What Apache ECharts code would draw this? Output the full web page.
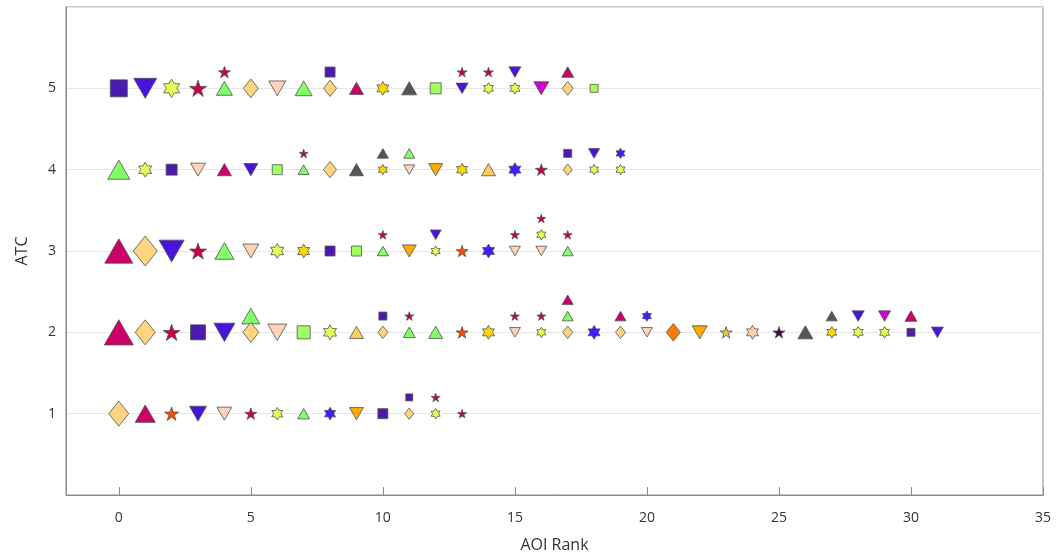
<!DOCTYPE html>
<html>
<head>
<meta charset="utf-8">
<script src="https://cdn.jsdelivr.net/npm/echarts@6/dist/echarts.min.js"></script>
<style>html,body{margin:0;padding:0;background:#fff;}#c{width:1063px;height:559px;}</style>
</head>
<body>
<div id="c"></div>
<script>
// Marker categories: [shape, colour]
const markerShapes = ['square','downTriangle','hexagram','star','triangle','diamond','downTriangle','triangle','hexagram','triangle',
  'square','hexagram','downTriangle','star','diamond','downTriangle','star','hexagram','star','triangle'];
const markerColors = ['#4B1AAE','#4A12DD','#E8FF55','#CC0044','#80FF66','#FFD580','#FFD4B8','#CC0066','#FFD700','#555555',
  '#A0FF60','#3C1EFF','#FFAA00','#FF4A00','#FF7A00','#D000D0','#F0C830','#FFD0B0','#4A0A40','#FFCC60'];

// Points: [AOI rank, ATC (stacked offset), marker index, marker size]
const atc5 = [[0,5,0,17],[1,5,1,23],[2,5,2,16],[3,5,3,17],[4,5,4,16],[4,5.2,3,12],[5,5,5,15],[6,5,6,17],[7,5,4,17],[8,5,5,13],[8,5.2,0,10],[9,5,7,14],[10,5,8,12],[11,5,9,15],[12,5,10,11],[13,5,1,12],[13,5.2,3,10],[14,5,2,10],[14,5.2,3,10],[15,5,2,10],[15,5.2,1,12],[16,5,15,15],[17,5,5,11],[17,5.2,7,12],[18,5,10,8]];
const atc4 = [[0,4,4,22],[1,4,2,13],[2,4,0,11],[3,4,6,15],[4,4,7,14],[5,4,1,14],[6,4,10,10],[7,4,4,11],[7,4.2,3,9],[8,4,5,13],[9,4,9,14],[10,4,8,9],[10,4.2,9,11],[11,4,6,11],[11,4.2,4,11],[12,4,12,14],[13,4,8,11],[14,4,19,14],[15,4,11,12],[16,4,3,12],[17,4,5,9],[17,4.2,0,8],[18,4,2,9],[18,4.2,1,11],[19,4,2,9],[19,4.2,11,9]];
const atc3 = [[0,3,7,28],[1,3,5,24],[2,3,1,25],[3,3,3,17],[4,3,4,19],[5,3,6,16],[6,3,2,13],[7,3,8,12],[8,3,0,10],[9,3,10,10],[10,3,4,11],[10,3.2,3,9],[11,3,12,14],[12,3,2,9],[12,3.2,1,11],[13,3,13,12],[14,3,11,12],[15,3,6,11],[15,3.2,3,9],[16,3,6,11],[16,3.2,2,9],[16,3.4,3,9],[17,3,4,11],[17,3.2,3,9]];
const atc2 = [[0,2,7,29],[1,2,5,20],[2,2,3,17],[3,2,0,15],[4,2,1,21],[5,2,5,16],[5,2.2,4,18],[6,2,6,19],[7,2,10,13],[8,2,2,13],[9,2,19,14],[10,2,5,10],[10,2.2,0,8],[11,2,4,12],[11,2.2,3,9],[12,2,4,14],[13,2,13,12],[14,2,8,12],[15,2,6,11],[15,2.2,3,9],[16,2,2,9],[16,2.2,3,9],[17,2,5,10],[17,2.2,4,11],[17,2.4,7,11],[18,2,11,12],[19,2,5,10],[19,2.2,7,11],[20,2,6,11],[20,2.2,11,9],[21,2,14,14],[22,2,12,15],[23,2,16,12],[24,2,17,12],[25,2,18,12],[26,2,9,15],[27,2,8,10],[27,2.2,9,11],[28,2,2,10],[28,2.2,1,12],[29,2,2,10],[29,2.2,15,12],[30,2,0,8],[30,2.2,7,12],[31,2,1,12]];
const atc1 = [[0,1,5,20],[1,1,7,20],[2,1,13,14],[3,1,1,17],[4,1,6,15],[5,1,3,12],[6,1,2,11],[7,1,4,12],[8,1,11,11],[9,1,12,14],[10,1,0,10],[11,1,5,9],[11,1.2,0,7],[12,1,2,9],[12,1.2,3,9],[13,1,3,9]];

const xTicks = [0,5,10,15,20,25,30,35];
const yTicks = [1,2,3,4,5];

const allPoints = [].concat(atc5, atc4, atc3, atc2, atc1);

const shapeDefs = {
  square: {symbol: 'rect', aspect: 1},
  triangle: {symbol: 'path://M0,-1 L0.866,0.5 L-0.866,0.5 Z', aspect: 0.87},
  downTriangle: {symbol: 'path://M0,1 L0.866,-0.5 L-0.866,-0.5 Z', aspect: 0.87},
  diamond: {symbol: 'path://M0,-1 L0.8,0 L0,1 L-0.8,0 Z', aspect: 1.25},
  star: {symbol: 'path://M0,-1 L0.2245,-0.309 L0.951,-0.309 L0.3633,0.118 L0.588,0.809 L0,0.382 L-0.588,0.809 L-0.3633,0.118 L-0.951,-0.309 L-0.2245,-0.309 Z', aspect: 0.95},
  hexagram: {symbol: 'path://M0,-1 L0.2887,-0.5 L0.866,-0.5 L0.577,0 L0.866,0.5 L0.2887,0.5 L0,1 L-0.2887,0.5 L-0.866,0.5 L-0.577,0 L-0.866,-0.5 L-0.2887,-0.5 Z', aspect: 1.15}
};

const series = markerShapes.map((shape, idx) => {
  const def = shapeDefs[shape];
  return {
    type: 'scatter',
    symbol: def.symbol,
    symbolSize: (v) => [v[3], v[3] * def.aspect],
    itemStyle: {color: markerColors[idx], borderColor: '#505050', borderWidth: 0.8, opacity: 1},
    emphasis: {disabled: true},
    z: 3,
    data: allPoints.filter(p => p[2] === idx)
  };
});

const chart = echarts.init(document.getElementById('c'), null, {renderer: 'canvas'});
chart.setOption({
  animation: false,
  backgroundColor: '#ffffff',
  grid: {left: 66, right: 20, top: 7, bottom: 64, show: true, borderColor: '#8a8a8a', borderWidth: 1, backgroundColor: 'transparent'},
  xAxis: [{
    type: 'value', min: -2, max: 35,
    name: 'AOI Rank', nameLocation: 'middle', nameGap: 42,
    nameTextStyle: {fontFamily: 'Open Sans', fontSize: 16, color: '#333'},
    axisLine: {show: true, onZero: false, lineStyle: {color: '#8a8a8a'}},
    axisTick: {show: false},
    axisLabel: {customValues: xTicks, fontFamily: 'Open Sans', fontSize: 14, color: '#333', margin: 16},
    splitLine: {show: false}
  }, {
    // Helper axis sharing the same scale, used only to draw the inward tick marks
    type: 'value', min: -2, max: 35, position: 'bottom', offset: 0,
    axisLine: {show: false, onZero: false},
    axisLabel: {show: false},
    splitLine: {show: false},
    axisTick: {show: true, inside: true, length: 8, customValues: xTicks, lineStyle: {color: '#8a8a8a', width: 1}}
  }],
  yAxis: {
    type: 'value', min: 0, max: 6, interval: 1,
    name: 'ATC', nameLocation: 'middle', nameGap: 36,
    nameTextStyle: {fontFamily: 'Open Sans', fontSize: 16, color: '#333'},
    axisLine: {show: true, onZero: false, lineStyle: {color: '#8a8a8a'}},
    axisTick: {show: false},
    axisLabel: {customValues: yTicks, fontFamily: 'Open Sans', fontSize: 14, color: '#333', margin: 10},
    splitLine: {show: true, lineStyle: {color: '#e6e6e6', width: 1}}
  },
  series: series
});
</script>
</body>
</html>
